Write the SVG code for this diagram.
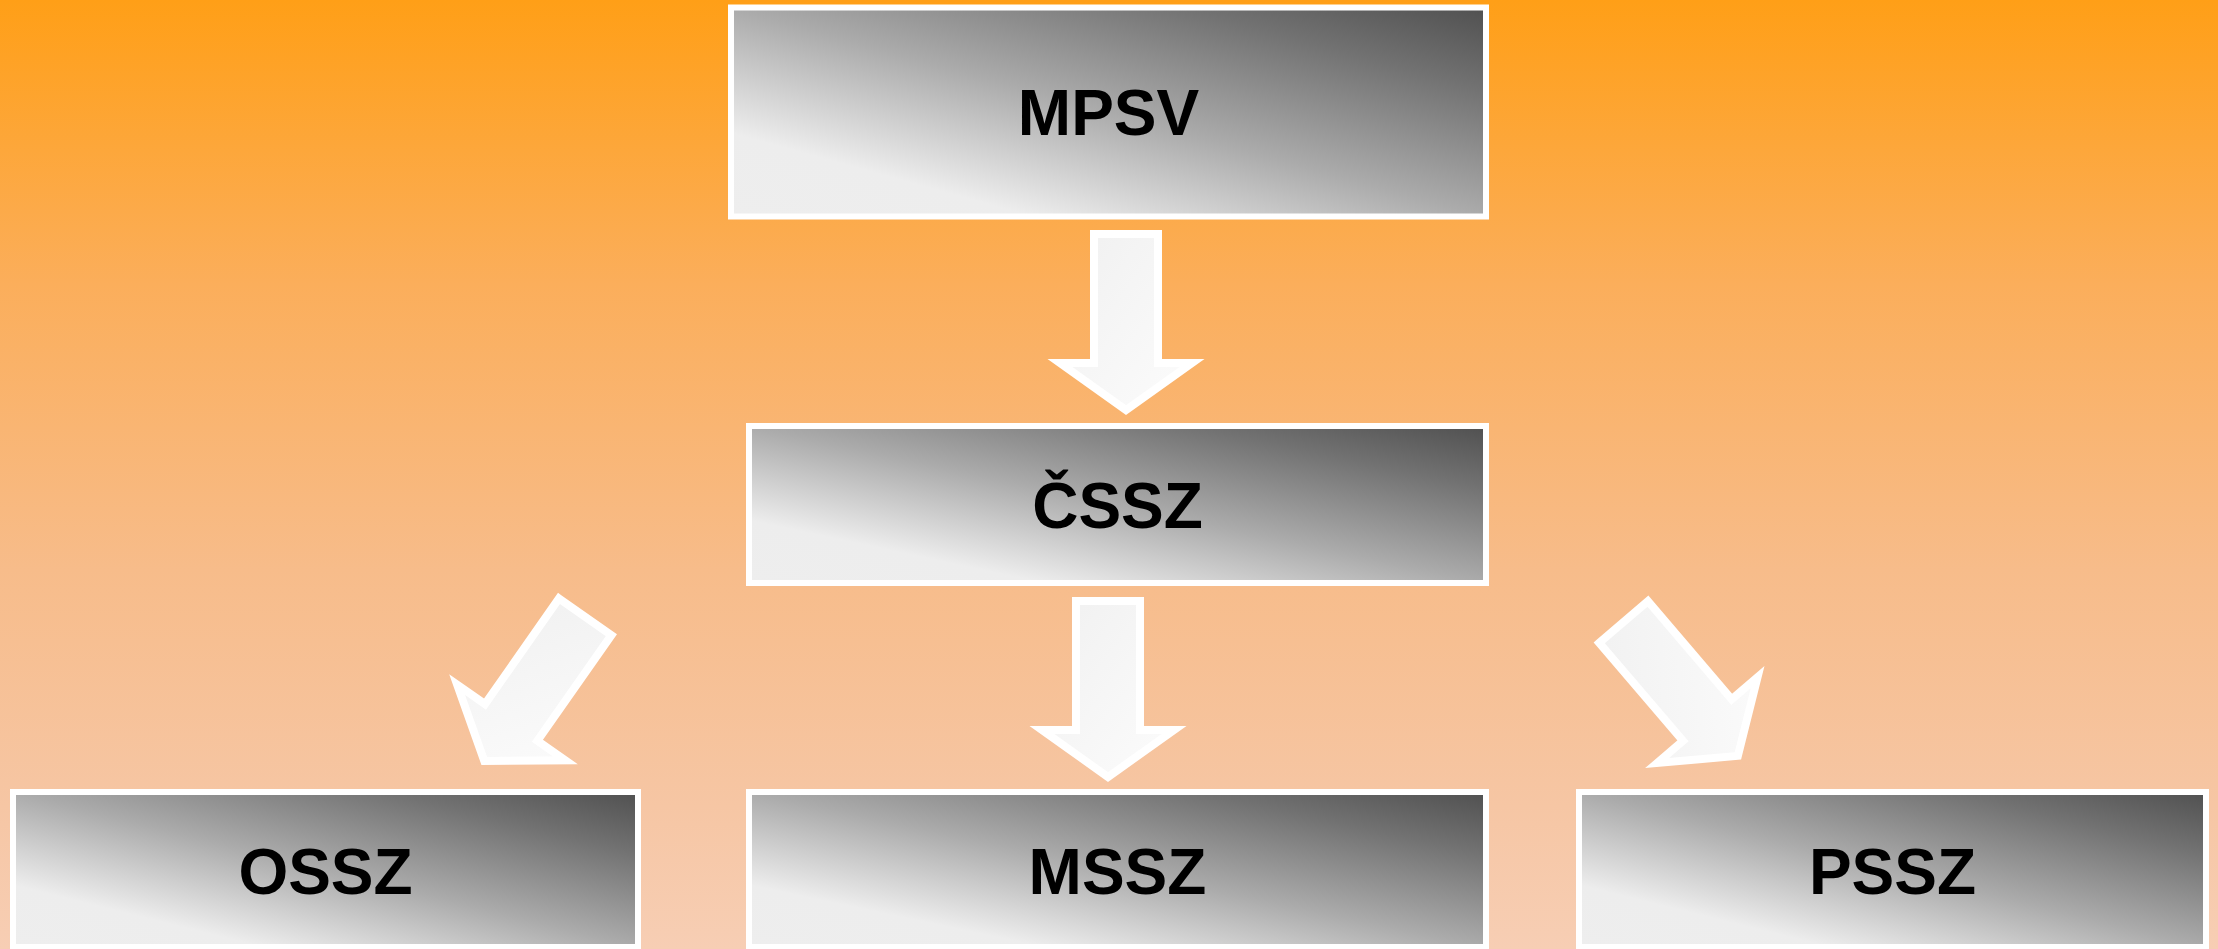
<svg xmlns="http://www.w3.org/2000/svg" xmlns:xlink="http://www.w3.org/1999/xlink" width="2218" height="949" viewBox="0 0 2218 949">
  <defs>
    <linearGradient id="bg" x1="0" y1="0" x2="0" y2="1">
      <stop offset="0" stop-color="#FF9F17"/>
      <stop offset="0.3" stop-color="#FBAE5B"/>
      <stop offset="0.6" stop-color="#F7BC8A"/>
      <stop offset="0.85" stop-color="#F6C6A4"/>
      <stop offset="1" stop-color="#F7CEB4"/>
    </linearGradient>
    <linearGradient id="boxg" x1="0" y1="1" x2="1" y2="0">
      <stop offset="0" stop-color="#EEEEEE"/>
      <stop offset="0.2" stop-color="#EDEDED"/>
      <stop offset="0.5" stop-color="#ABABAB"/>
      <stop offset="0.8" stop-color="#727272"/>
      <stop offset="1" stop-color="#505050"/>
    </linearGradient>
    <linearGradient id="arrg" x1="0" y1="0" x2="1" y2="1">
      <stop offset="0" stop-color="#F0F0F0"/>
      <stop offset="1" stop-color="#FCFCFC"/>
    </linearGradient>
    <path id="arrow" d="M-32,4 H32 V133 H66 L0,180 L-66,133 H-32 Z"/>
  </defs>
  <style>
    .box { fill: url(#boxg); stroke: #FFFFFF; stroke-width: 6; }
    .arr { fill: url(#arrg); stroke: #FFFFFF; stroke-width: 8; stroke-linejoin: miter; stroke-miterlimit: 10; }
    .lbl { font-family: "Liberation Sans", Arial, sans-serif; font-weight: bold; font-size: 64px; fill: #000000; text-anchor: middle; }
  </style>
  <rect x="0" y="0" width="2218" height="949" fill="url(#bg)"/>

  <g id="connectors">
    <use xlink:href="#arrow" class="arr" transform="translate(1126,230)"/>
    <use xlink:href="#arrow" class="arr" transform="translate(587.5,613.5) rotate(35)"/>
    <use xlink:href="#arrow" class="arr" transform="translate(1108,597)"/>
    <use xlink:href="#arrow" class="arr" transform="translate(1621,619) rotate(-40.5)"/>
  </g>

  <g id="mpsv">
    <rect class="box" x="731" y="7.5" width="755" height="209"/>
    <text class="lbl" x="1108.5" y="135">MPSV</text>
  </g>
  <g id="cssz">
    <rect class="box" x="749" y="426" width="737" height="157"/>
    <text class="lbl" x="1117.5" y="528">ČSSZ</text>
  </g>
  <g id="ossz">
    <rect class="box" x="13" y="792" width="625" height="155"/>
    <text class="lbl" x="325.5" y="894">OSSZ</text>
  </g>
  <g id="mssz">
    <rect class="box" x="749" y="792" width="737" height="155"/>
    <text class="lbl" x="1117.5" y="894">MSSZ</text>
  </g>
  <g id="pssz">
    <rect class="box" x="1579" y="792" width="627" height="155"/>
    <text class="lbl" x="1892.5" y="894">PSSZ</text>
  </g>
</svg>
